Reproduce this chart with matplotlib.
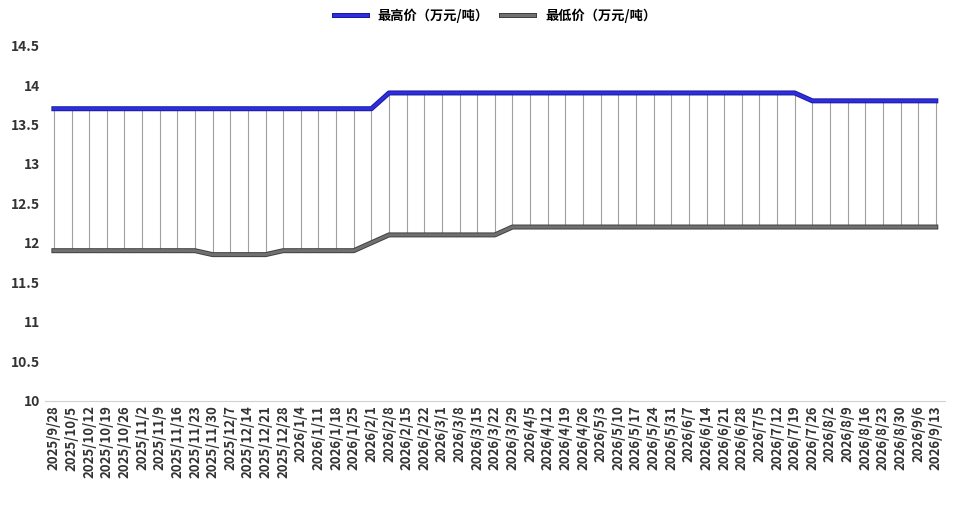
import matplotlib
matplotlib.use("Agg")
import matplotlib.pyplot as plt
import matplotlib.patheffects as pe

plt.rcParams['font.family'] = ['Noto Sans CJK SC', 'DejaVu Sans']

dates = ["2025/9/28","2025/10/5","2025/10/12","2025/10/19","2025/10/26","2025/11/2","2025/11/9",
 "2025/11/16","2025/11/23","2025/11/30","2025/12/7","2025/12/14","2025/12/21","2025/12/28",
 "2026/1/4","2026/1/11","2026/1/18","2026/1/25","2026/2/1","2026/2/8","2026/2/15","2026/2/22",
 "2026/3/1","2026/3/8","2026/3/15","2026/3/22","2026/3/29","2026/4/5","2026/4/12","2026/4/19",
 "2026/4/26","2026/5/3","2026/5/10","2026/5/17","2026/5/24","2026/5/31","2026/6/7","2026/6/14",
 "2026/6/21","2026/6/28","2026/7/5","2026/7/12","2026/7/19","2026/7/26","2026/8/2","2026/8/9",
 "2026/8/16","2026/8/23","2026/8/30","2026/9/6","2026/9/13"]
high = [13.7]*19 + [13.9]*24 + [13.8]*8
low = [11.9]*9 + [11.85]*4 + [11.9]*5 + [12.0] + [12.1]*7 + [12.2]*25

fig = plt.figure(figsize=(9.59, 5.07), dpi=100)
ax = fig.add_axes([0.047, 0.21, 0.938, 0.70])
x = list(range(len(dates)))
ax.vlines(x, low, high, color='#a0a0a0', lw=0.8, zorder=1)
ax.plot(x, high, color='#2e2ee0', lw=2.2, zorder=3,
        path_effects=[pe.Stroke(linewidth=3.6, foreground='#1a1aa0'), pe.Normal()], label='最高价（万元/吨）')
ax.plot(x, low, color='#707070', lw=2.2, zorder=3,
        path_effects=[pe.Stroke(linewidth=3.6, foreground='#404040'), pe.Normal()], label='最低价（万元/吨）')
ax.set_xlim(-0.5, len(dates) - 0.5)
ax.set_ylim(10, 14.5)
ax.set_yticks([10, 10.5, 11, 11.5, 12, 12.5, 13, 13.5, 14, 14.5])
ax.set_yticklabels(['10', '10.5', '11', '11.5', '12', '12.5', '13', '13.5', '14', '14.5'],
                   fontweight='bold', fontsize=10, color='#333333')
ax.set_xticks(x)
ax.set_xticklabels(dates, rotation=90, fontweight='bold', fontsize=9.5, color='#333333')
for s in ['top', 'right', 'left']:
    ax.spines[s].set_visible(False)
ax.spines['bottom'].set_color('#d0d0d0')
ax.tick_params(length=0)
ax.legend(loc='lower center', bbox_to_anchor=(0.5, 1.03), ncol=2, frameon=False,
          prop={'weight': 'bold', 'size': 9.5}, handlelength=2.5, columnspacing=1.0)
fig.savefig('out.png', dpi=100)
